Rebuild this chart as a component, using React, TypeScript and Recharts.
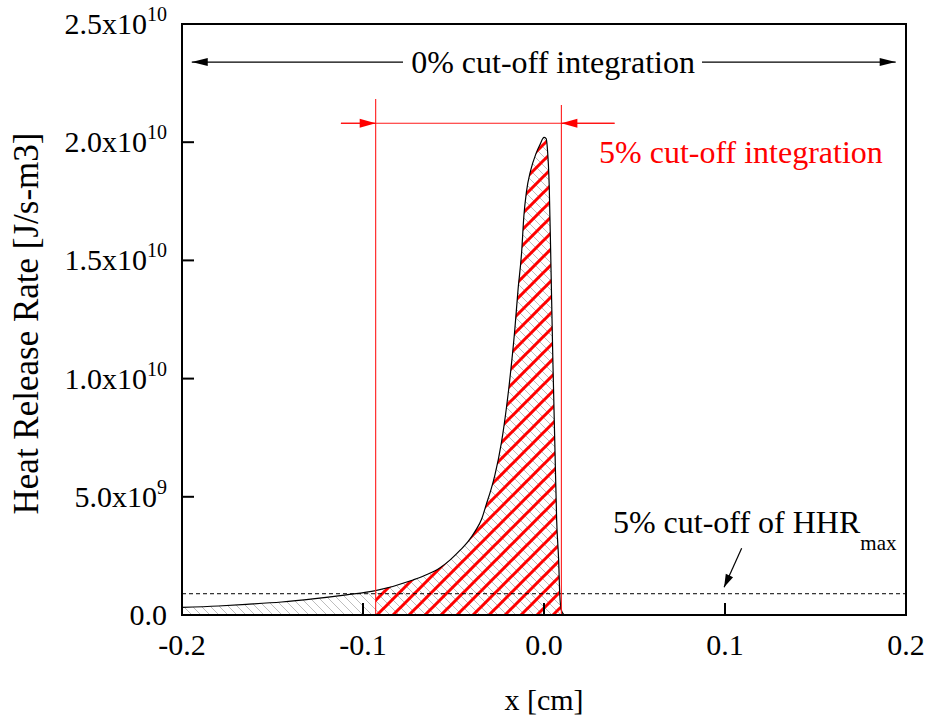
import React from "react"
import { ComposedChart, Area, Line, XAxis, YAxis, ReferenceLine, ReferenceArea, ReferenceDot } from "recharts"

// x position [cm] and heat release rate [1e9 J/s-m3]
const xPos = [-0.2, -0.18, -0.1645, -0.145, -0.1277, -0.1092, -0.093, -0.0724, -0.065, -0.0576, -0.052, -0.0466, -0.042, -0.038, -0.0345, -0.0318, -0.0295, -0.0272, -0.0235, -0.0207, -0.018, -0.0161, -0.0143, -0.0124, -0.0111, -0.0097, -0.0074, -0.0045, -0.0022, 0, 0.0012, 0.0018, 0.0029, 0.0037, 0.0048, 0.0061, 0.007, 0.0081, 0.0087, 0.0096, 0.0108, 0.012, 0.05, 0.1, 0.15, 0.2]
const hrr = [0.32, 0.38, 0.45, 0.55, 0.68, 0.85, 1.03, 1.48, 1.7, 1.99, 2.32, 2.72, 3.1, 3.55, 4.05, 4.7, 5.25, 5.9, 7.3, 8.8, 10.6, 12.1, 13.8, 15.3, 16.9, 17.9, 18.8, 19.5, 19.9, 20.2, 20.15, 19.8, 18.1, 15.3, 11.1, 6.85, 4.0, 2.3, 0.9, 0.2, 0.03, 0, 0, 0, 0, 0]

// integration limits of the 5% cut-off, and the cut-off level
const cutLo = -0.093
const cutHi = 0.0096
const cutLevel = 0.9

const xTicks = [-0.2, -0.1, 0, 0.1, 0.2]
const xTickLabels = ["-0.2", "-0.1", "0.0", "0.1", "0.2"]
const yTicks = [0, 5, 10, 15, 20, 25]
const yTickBase = ["0.0", "5.0x10", "1.0x10", "1.5x10", "2.0x10", "2.5x10"]
const yTickExp = ["", "9", "10", "10", "10", "10"]

const data = xPos.map((x, i) => ({
  x,
  hrr: hrr[i],
  hrrCut: x >= cutLo && x <= cutHi ? hrr[i] : null,
}))

const FONT = '"Liberation Serif", "Times New Roman", serif'

const XTick = (props: any) => {
  const { x, y, payload } = props
  const i = xTicks.indexOf(payload.value)
  return (
    <g>
      <line x1={x} y1={y} x2={x} y2={y - 12} stroke="#000" strokeWidth={2} />
      <text x={x} y={y + 40} textAnchor="middle" fontFamily={FONT} fontSize={30} fill="#000">
        {xTickLabels[i]}
      </text>
    </g>
  )
}

const YTick = (props: any) => {
  const { x, y, payload } = props
  const i = yTicks.indexOf(payload.value)
  return (
    <g>
      <line x1={x} y1={y} x2={x + 12} y2={y} stroke="#000" strokeWidth={2} />
      <text x={x - 15} y={y + 10} textAnchor="end" fontFamily={FONT} fontSize={30} fill="#000">
        {yTickBase[i]}
        {yTickExp[i] && (
          <tspan dy={-13} fontSize={20}>
            {yTickExp[i]}
          </tspan>
        )}
      </text>
    </g>
  )
}

// line with filled arrowheads at its start and/or end
const arrow = (color: string, width: number, head: number, half: number, atStart: boolean, atEnd: boolean) => (p: any) => {
  const { x1, y1, x2, y2 } = p
  const ang = Math.atan2(y2 - y1, x2 - x1)
  const tri = (tx: number, ty: number, a: number) => {
    const bx = tx - head * Math.cos(a)
    const by = ty - head * Math.sin(a)
    const nx = -Math.sin(a) * half
    const ny = Math.cos(a) * half
    return <polygon points={`${tx},${ty} ${bx + nx},${by + ny} ${bx - nx},${by - ny}`} fill={color} />
  }
  return (
    <g>
      <line x1={x1} y1={y1} x2={x2} y2={y2} stroke={color} strokeWidth={width} />
      {atStart && tri(x1, y1, ang + Math.PI)}
      {atEnd && tri(x2, y2, ang)}
    </g>
  )
}

const textAt = (value: string, color: string, anchor: "start" | "middle" | "end", sub?: string) => (p: any) => (
  <text x={p.cx} y={p.cy} textAnchor={anchor} fontFamily={FONT} fontSize={32} fill={color}>
    {value}
    {sub && (
      <tspan dy={17} fontSize={21}>
        {sub}
      </tspan>
    )}
  </text>
)

export default function App() {
  return (
    <div style={{ position: "absolute", left: 0, top: 0, width: 926, height: 719, background: "#fff" }}>
      <svg width={0} height={0} style={{ position: "absolute" }}>
        <defs>
          <pattern id="grayHatch" patternUnits="userSpaceOnUse" width={9} height={9}>
            <path d="M0,0 L9,9 M-3,6 L3,12 M6,-3 L12,3" stroke="#bdbdbd" strokeWidth={1} />
          </pattern>
          <pattern id="redHatch" patternUnits="userSpaceOnUse" width={16} height={16}>
            <path d="M0,16 L16,0 M-4,4 L4,-4 M12,20 L20,12" stroke="#ff0000" strokeWidth={3} />
          </pattern>
        </defs>
      </svg>
      <ComposedChart width={926} height={719} data={data} margin={{ top: 24, right: 20, left: 0, bottom: 44 }}>
        <XAxis
          dataKey="x"
          type="number"
          domain={[-0.2, 0.2]}
          ticks={xTicks}
          tick={<XTick />}
          tickSize={0}
          tickMargin={0}
          tickLine={false}
          axisLine={{ stroke: "#000", strokeWidth: 2 }}
          height={60}
          label={{
            content: (p: any) => (
              <text
                x={p.viewBox.x + p.viewBox.width / 2}
                y={p.viewBox.y + 95}
                textAnchor="middle"
                fontFamily={FONT}
                fontSize={30}
                fill="#000"
              >
                x [cm]
              </text>
            ),
          }}
        />
        <YAxis
          type="number"
          domain={[0, 25]}
          ticks={yTicks}
          tick={<YTick />}
          tickSize={0}
          tickMargin={0}
          tickLine={false}
          axisLine={{ stroke: "#000", strokeWidth: 2 }}
          width={182}
          label={{
            content: (p: any) => {
              const cx = p.viewBox.x + 38
              const cy = p.viewBox.y + p.viewBox.height / 2 + 4
              return (
                <text
                  x={cx}
                  y={cy}
                  transform={`rotate(-90 ${cx} ${cy})`}
                  textAnchor="middle"
                  fontFamily={FONT}
                  fontSize={35}
                  fill="#000"
                >
                  Heat Release Rate [J/s-m3]
                </text>
              )
            },
          }}
        />
        <Area
          type="monotone"
          dataKey="hrr"
          stroke="none"
          fill="url(#grayHatch)"
          fillOpacity={1}
          isAnimationActive={false}
        />
        <Area
          type="monotone"
          dataKey="hrrCut"
          stroke="none"
          fill="url(#redHatch)"
          fillOpacity={1}
          connectNulls={false}
          isAnimationActive={false}
        />
        <Line type="monotone" dataKey="hrr" stroke="#000" strokeWidth={1.2} dot={false} activeDot={false} isAnimationActive={false} />

        <ReferenceLine y={cutLevel} stroke="#000" strokeWidth={1} strokeDasharray="4 3" />
        <ReferenceLine segment={[{ x: cutLo, y: 0 }, { x: cutLo, y: 21.83 }]} stroke="#ff1a1a" strokeWidth={1.1} />
        <ReferenceLine segment={[{ x: cutHi, y: 0 }, { x: cutHi, y: 21.57 }]} stroke="#ff1a1a" strokeWidth={1.1} />
        <ReferenceLine segment={[{ x: -0.1122, y: 20.8 }, { x: 0.039, y: 20.8 }]} stroke="#ff1a1a" strokeWidth={1.1} />
        <ReferenceLine segment={[{ x: -0.1122, y: 20.8 }, { x: cutLo, y: 20.8 }]} shape={arrow("#ff0000", 1.1, 16, 4.5, false, true)} />
        <ReferenceLine segment={[{ x: 0.039, y: 20.8 }, { x: cutHi, y: 20.8 }]} shape={arrow("#ff0000", 1.1, 16, 4.5, false, true)} />

        <ReferenceLine segment={[{ x: -0.1946, y: 23.39 }, { x: -0.0779, y: 23.39 }]} shape={arrow("#000", 1.2, 16, 4, true, false)} />
        <ReferenceLine segment={[{ x: 0.0873, y: 23.39 }, { x: 0.1943, y: 23.39 }]} shape={arrow("#000", 1.2, 16, 4, false, true)} />
        <ReferenceLine segment={[{ x: 0.1092, y: 2.82 }, { x: 0.0995, y: 1.17 }]} shape={arrow("#000", 1.2, 13, 4, false, true)} />

        <ReferenceDot x={0.005} y={22.91} r={0} shape={textAt("0% cut-off integration", "#000", "middle")} />
        <ReferenceDot x={0.1088} y={19.12} r={0} shape={textAt("5% cut-off integration", "#ff0000", "middle")} />
        <ReferenceDot x={0.0381} y={3.47} r={0} shape={textAt("5% cut-off of HHR", "#000", "start", "max")} />

        <ReferenceArea x1={-0.2} x2={0.2} y1={0} y2={25} fill="none" stroke="#000" strokeWidth={2} ifOverflow="visible" />
      </ComposedChart>
    </div>
  )
}
